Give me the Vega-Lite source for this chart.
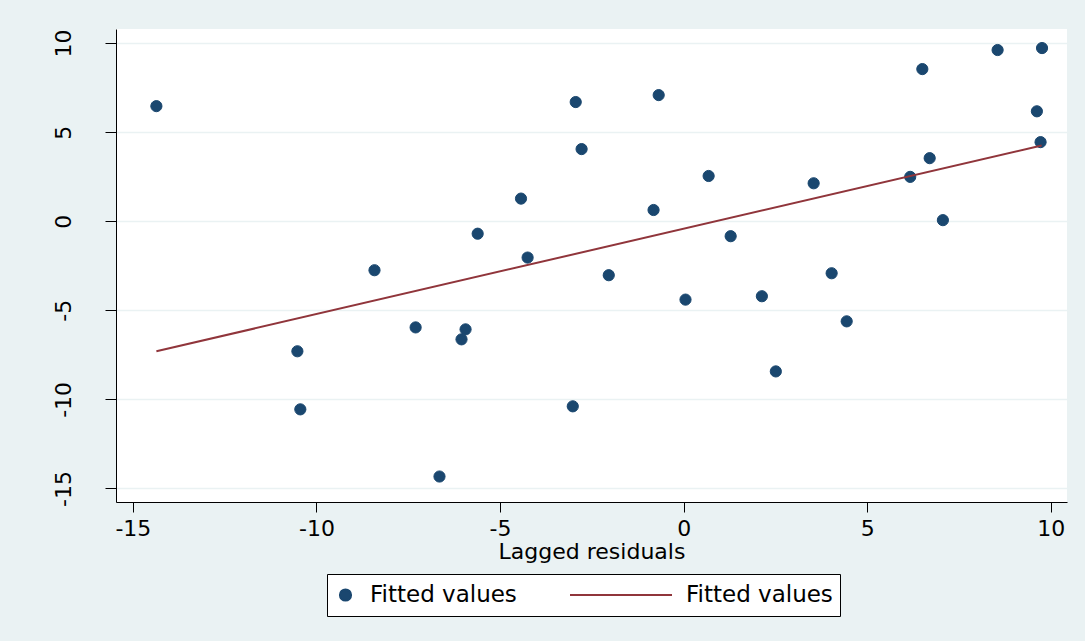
{
  "$schema": "https://vega.github.io/schema/vega-lite/v6.json",
  "width": 951,
  "height": 473,
  "autosize": {"type": "none"},
  "padding": {"left": 116, "top": 29, "right": 18, "bottom": 139},
  "background": "#eaf2f3",
  "config": {"view": {"fill": "white", "stroke": null}, "font": "DejaVu Sans"},
  "layer": [
    {
      "data": {"values": [
        {"x": -14.36, "y": 6.46, "series": "pts"},
        {"x": -10.52, "y": -7.30, "series": "pts"},
        {"x": -10.44, "y": -10.56, "series": "pts"},
        {"x": -8.42, "y": -2.75, "series": "pts"},
        {"x": -7.30, "y": -5.96, "series": "pts"},
        {"x": -6.65, "y": -14.33, "series": "pts"},
        {"x": -6.05, "y": -6.63, "series": "pts"},
        {"x": -5.94, "y": -6.07, "series": "pts"},
        {"x": -5.61, "y": -0.70, "series": "pts"},
        {"x": -4.43, "y": 1.27, "series": "pts"},
        {"x": -4.25, "y": -2.04, "series": "pts"},
        {"x": -3.02, "y": -10.39, "series": "pts"},
        {"x": -2.94, "y": 6.69, "series": "pts"},
        {"x": -2.78, "y": 4.05, "series": "pts"},
        {"x": -2.04, "y": -3.03, "series": "pts"},
        {"x": -0.82, "y": 0.63, "series": "pts"},
        {"x": -0.68, "y": 7.08, "series": "pts"},
        {"x": 0.05, "y": -4.40, "series": "pts"},
        {"x": 0.68, "y": 2.54, "series": "pts"},
        {"x": 1.28, "y": -0.84, "series": "pts"},
        {"x": 2.13, "y": -4.21, "series": "pts"},
        {"x": 2.51, "y": -8.43, "series": "pts"},
        {"x": 3.54, "y": 2.13, "series": "pts"},
        {"x": 4.03, "y": -2.92, "series": "pts"},
        {"x": 4.44, "y": -5.62, "series": "pts"},
        {"x": 6.17, "y": 2.49, "series": "pts"},
        {"x": 6.50, "y": 8.54, "series": "pts"},
        {"x": 6.70, "y": 3.54, "series": "pts"},
        {"x": 7.06, "y": 0.06, "series": "pts"},
        {"x": 8.55, "y": 9.61, "series": "pts"},
        {"x": 9.62, "y": 6.17, "series": "pts"},
        {"x": 9.72, "y": 4.44, "series": "pts"},
        {"x": 9.76, "y": 9.72, "series": "pts"}
      ]},
      "mark": {"type": "point", "filled": true, "opacity": 1, "strokeWidth": 1},
      "encoding": {
        "x": {
          "field": "x", "type": "quantitative",
          "scale": {"domain": [-15.46, 10.44], "nice": false, "zero": false},
          "axis": {
            "values": [-15, -10, -5, 0, 5, 10],
            "labelExpr": "toString(datum.value)",
            "title": "Lagged residuals",
            "grid": false,
            "domainColor": "black", "domainWidth": 1,
            "tickColor": "black", "tickSize": 10, "tickWidth": 1,
            "labelFont": "DejaVu Sans", "labelFontSize": 22, "labelColor": "black",
            "labelPadding": 6, "labelFlush": false,
            "titleFont": "DejaVu Sans", "titleFontSize": 22, "titleFontWeight": "normal",
            "titleColor": "black", "titlePadding": 2
          }
        },
        "y": {
          "field": "y", "type": "quantitative",
          "scale": {"domain": [-15.76, 10.79], "nice": false, "zero": false},
          "axis": {
            "values": [-15, -10, -5, 0, 5, 10],
            "labelExpr": "toString(datum.value)",
            "title": null,
            "grid": true, "gridColor": "#eaf2f3", "gridWidth": 1.5,
            "domainColor": "black", "domainWidth": 1,
            "tickColor": "black", "tickSize": 11, "tickWidth": 1,
            "labelFont": "DejaVu Sans", "labelFontSize": 22, "labelColor": "black",
            "labelAngle": -90, "labelAlign": "center", "labelBaseline": "bottom",
            "labelPadding": 30, "labelFlush": false
          }
        },
        "color": {
          "field": "series", "type": "nominal",
          "scale": {"domain": ["pts", "fit"], "range": ["#1a476f", "#90353b"]},
          "legend": {
            "orient": "none", "legendX": 211, "legendY": 545,
            "direction": "horizontal", "title": null,
            "labelExpr": "'Fitted values'",
            "labelFont": "DejaVu Sans", "labelFontSize": 23, "labelColor": "black",
            "padding": 7, "strokeColor": "black", "fillColor": "white",
            "clipHeight": 28, "symbolOffset": 0, "labelOffset": 13, "columnPadding": 52,
            "symbolStrokeWidth": 2
          }
        },
        "stroke": {
          "field": "series", "type": "nominal",
          "scale": {"domain": ["pts", "fit"], "range": ["#1a476f", "#90353b"]},
          "legend": {
            "orient": "none", "legendX": 211, "legendY": 545,
            "direction": "horizontal", "title": null,
            "labelExpr": "'Fitted values'",
            "labelFont": "DejaVu Sans", "labelFontSize": 23, "labelColor": "black",
            "padding": 7, "strokeColor": "black", "fillColor": "white",
            "clipHeight": 28, "symbolOffset": 0, "labelOffset": 13, "columnPadding": 52,
            "symbolStrokeWidth": 2
          }
        },
        "shape": {
          "field": "series", "type": "nominal",
          "scale": {"domain": ["pts", "fit"], "range": ["circle", "stroke"]},
          "legend": {
            "orient": "none", "legendX": 211, "legendY": 545,
            "direction": "horizontal", "title": null,
            "labelExpr": "'Fitted values'",
            "labelFont": "DejaVu Sans", "labelFontSize": 23, "labelColor": "black",
            "padding": 7, "strokeColor": "black", "fillColor": "white",
            "clipHeight": 28, "symbolOffset": 0, "labelOffset": 13, "columnPadding": 52,
            "symbolStrokeWidth": 2
          }
        },
        "size": {
          "field": "series", "type": "ordinal",
          "scale": {"domain": ["pts", "fit"], "range": [125, 10404]},
          "legend": {
            "orient": "none", "legendX": 211, "legendY": 545,
            "direction": "horizontal", "title": null,
            "labelExpr": "'Fitted values'",
            "labelFont": "DejaVu Sans", "labelFontSize": 23, "labelColor": "black",
            "padding": 7, "strokeColor": "black", "fillColor": "white",
            "clipHeight": 28, "symbolOffset": 0, "labelOffset": 13, "columnPadding": 52,
            "symbolStrokeWidth": 2
          }
        }
      }
    },
    {
      "data": {"values": [
        {"x": -14.36, "y": -7.30, "series": "fit"},
        {"x": 9.75, "y": 4.25, "series": "fit"}
      ]},
      "mark": {"type": "line", "strokeWidth": 2, "color": "#90353b"},
      "encoding": {
        "x": {"field": "x", "type": "quantitative"},
        "y": {"field": "y", "type": "quantitative"}
      }
    }
  ]
}
